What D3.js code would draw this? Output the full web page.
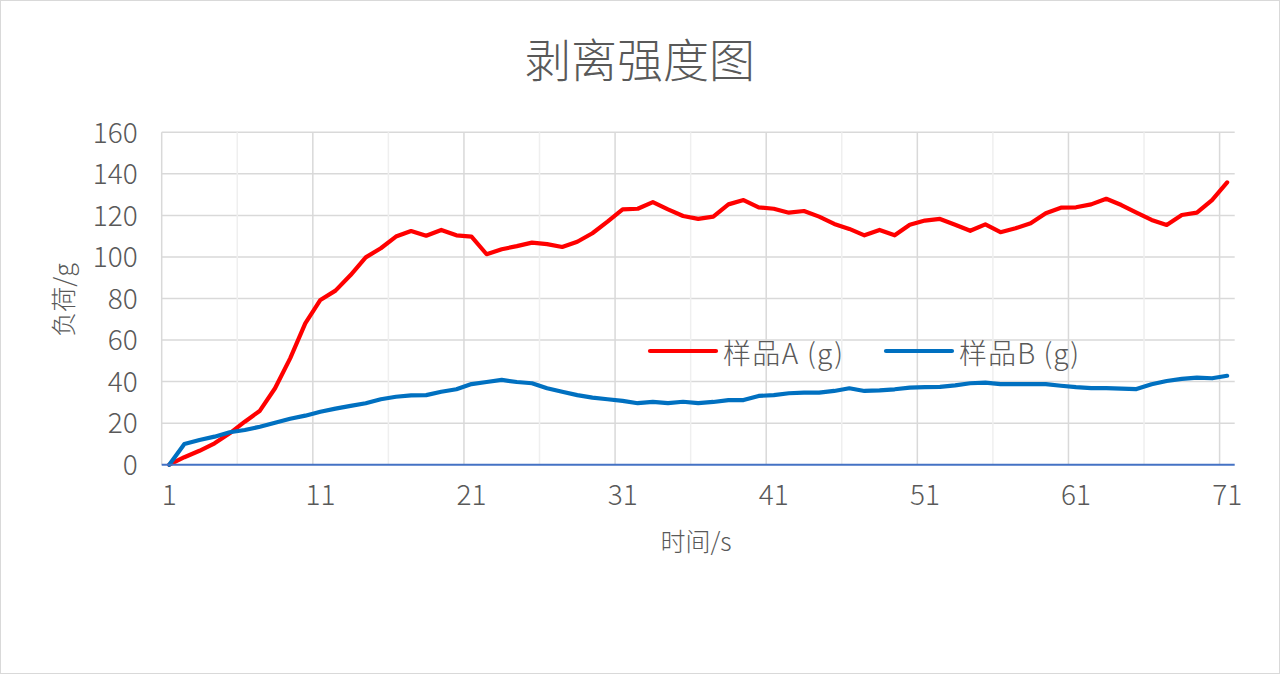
<!DOCTYPE html>
<html>
<head>
<meta charset="utf-8">
<script src="https://cdn.jsdelivr.net/npm/d3@7/dist/d3.min.js"></script>
<style>
  html, body { margin: 0; padding: 0; background: #fff; }
  svg { display: block; }
  text { font-family: "Noto Sans CJK SC", "Noto Sans", sans-serif; font-weight: 300; fill: #595959; }
</style>
</head>
<body>
<svg id="chart" width="1280" height="674"></svg>
<script>
const categories = [1,2,3,4,5,6,7,8,9,10,11,12,13,14,15,16,17,18,19,20,21,22,23,24,25,26,27,28,29,30,31,32,33,34,35,36,37,38,39,40,41,42,43,44,45,46,47,48,49,50,51,52,53,54,55,56,57,58,59,60,61,62,63,64,65,66,67,68,69,70,71];
const seriesA = [0,3.6,6.7,10.3,15.1,20.7,26,36.8,51.2,68,79.3,83.8,91.3,99.8,104.2,109.8,112.5,110.2,113,110.4,109.8,101.3,103.7,105.2,106.9,106.2,104.8,107.3,111.4,117,122.9,123.2,126.4,122.9,119.7,118.3,119.4,125.3,127.4,123.9,123.2,121.3,122.1,119.4,115.9,113.5,110.4,113,110.4,115.5,117.5,118.3,115.5,112.6,115.7,111.9,113.8,116.2,121,123.7,123.9,125.3,128,125,121.3,117.8,115.4,120.2,121.3,127.4,135.9];
const seriesB = [0,10,11.9,13.5,15.6,16.7,18.3,20.2,22.1,23.6,25.5,27,28.3,29.6,31.5,32.7,33.4,33.5,35.1,36.3,38.8,39.8,40.8,39.8,39.2,36.8,35.1,33.5,32.3,31.5,30.7,29.6,30.2,29.6,30.3,29.6,30.2,31.1,31.1,33.1,33.5,34.4,34.7,34.7,35.5,36.8,35.5,35.8,36.3,37.1,37.3,37.5,38.2,39.2,39.5,38.8,38.8,38.8,38.8,38,37.3,36.9,36.9,36.6,36.4,38.7,40.3,41.3,41.9,41.6,42.8];
const yTicks = [0,20,40,60,80,100,120,140,160];
const xTickLabels = [1,11,21,31,41,51,61,71];
const majorGridCats = [1,11,21,31,41,51,61,71];
const minorGridCats = [6,16,26,36,46,56,66];
const seriesNames = ["样品A (g)", "样品B (g)"];
const seriesColors = ["#FF0000", "#0070C0"];
const titleText = "剥离强度图";
const yTitle = "负荷/g";
const xTitle = "时间/s";

const svg = d3.select("#chart");
const W = 1280, H = 674;
const L = 161.7, R = 1234.7, T = 132.3, B = 464.7;

svg.append("rect").attr("x", 0.5).attr("y", 0.5).attr("width", W - 1).attr("height", H - 1)
  .attr("fill", "#fff").attr("stroke", "#d9d9d9").attr("stroke-width", 1);

const x = d3.scaleBand().domain(categories).range([L, R]).paddingInner(0).paddingOuter(0);
const xc = c => x(c) + x.bandwidth() / 2;
const y = d3.scaleLinear().domain([0, 160]).range([B, T]);

// horizontal gridlines
svg.append("g").selectAll("line").data(yTicks.filter(v => v > 0)).join("line")
  .attr("x1", L).attr("x2", R).attr("y1", d => y(d)).attr("y2", d => y(d))
  .attr("stroke", "#d9d9d9").attr("stroke-width", 1.5);

// minor vertical gridlines
svg.append("g").selectAll("line").data(minorGridCats).join("line")
  .attr("x1", d => x(d)).attr("x2", d => x(d)).attr("y1", T).attr("y2", B)
  .attr("stroke", "#efefef").attr("stroke-width", 1.5);

// major vertical gridlines
svg.append("g").selectAll("line").data(majorGridCats).join("line")
  .attr("x1", d => x(d)).attr("x2", d => x(d)).attr("y1", T).attr("y2", B)
  .attr("stroke", "#d9d9d9").attr("stroke-width", 1.5);

// y axis labels
const yAxis = d3.axisLeft(y).tickValues(yTicks).tickSize(0).tickPadding(24);
const gy = svg.append("g").attr("transform", `translate(${L},0)`).call(yAxis);
gy.select(".domain").remove();
gy.selectAll("text").style("font-size", "28px").style("font-family", '"Noto Sans CJK SC", sans-serif')
  .style("font-weight", 300).attr("fill", "#595959").attr("dy", "0.35em");

// x axis labels
const xAxis = d3.axisBottom(x).tickValues(xTickLabels).tickSize(0).tickPadding(20);
const gx = svg.append("g").attr("transform", `translate(0,${B})`).call(xAxis);
gx.select(".domain").remove();
gx.selectAll("text").style("font-size", "28px").style("font-family", '"Noto Sans CJK SC", sans-serif')
  .style("font-weight", 300).attr("fill", "#595959");

// lines
const line = d3.line().x((d, i) => xc(categories[i])).y(d => y(d));
[seriesA, seriesB].forEach((s, k) => {
  svg.append("path").datum(s).attr("d", line).attr("fill", "none")
    .attr("stroke", seriesColors[k]).attr("stroke-width", 4.2)
    .attr("stroke-linejoin", "round").attr("stroke-linecap", "round");
});

// zero axis line
svg.append("line").attr("x1", L).attr("x2", R).attr("y1", y(0)).attr("y2", y(0))
  .attr("stroke", "#4472C4").attr("stroke-width", 2);

// title
svg.append("text").attr("x", 640).attr("y", 57).attr("text-anchor", "middle")
  .attr("dominant-baseline", "central").style("font-size", "46px").text(titleText);

// axis titles
svg.append("text").attr("transform", "translate(62,300) rotate(-90)")
  .attr("text-anchor", "middle").attr("dominant-baseline", "central")
  .style("font-size", "25px").text(yTitle);
svg.append("text").attr("x", 696).attr("y", 540).attr("text-anchor", "middle")
  .attr("dominant-baseline", "central").style("font-size", "25px").text(xTitle);

// legend
const legendItems = [{x0: 650, x1: 716, tx: 723}, {x0: 886, x1: 952, tx: 959}];
legendItems.forEach((it, k) => {
  svg.append("line").attr("x1", it.x0).attr("x2", it.x1).attr("y1", 351).attr("y2", 351)
    .attr("stroke", seriesColors[k]).attr("stroke-width", 4.2).attr("stroke-linecap", "round");
  svg.append("text").attr("x", it.tx).attr("y", 352).attr("dominant-baseline", "central")
    .style("font-size", "28px").attr("textLength", 120).attr("lengthAdjust", "spacing").text(seriesNames[k]);
});
</script>
</body>
</html>
